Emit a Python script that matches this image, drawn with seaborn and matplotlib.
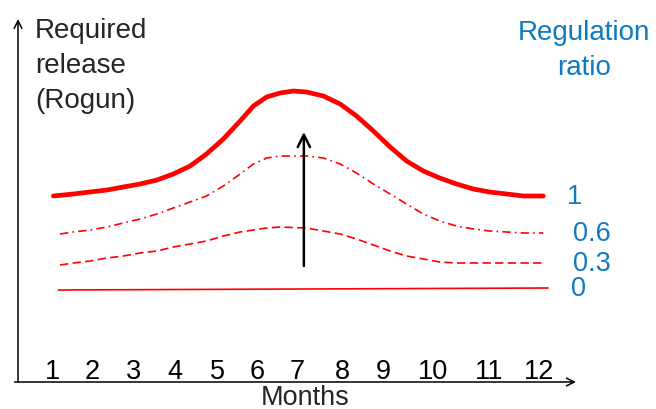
#required release sketch for rogun, one curve per regulation ratio
import numpy as np
import pandas as pd
import matplotlib
matplotlib.use('Agg')
import matplotlib.pyplot as plt
import seaborn as sns

#data, x in months, y in release units
t_main = [1.03, 1.48, 1.86, 2.24, 2.61, 2.99, 3.37, 3.74, 4.12, 4.49, 4.87, 5.25, 5.55, 5.85, 6.15, 6.45,
          6.75, 7.13, 7.51, 7.88, 8.26, 8.64, 9.01, 9.39, 9.76, 10.14, 10.52, 10.89, 11.27, 11.65, 12.10]
ratio_1 = [18.6, 18.8, 19.0, 19.2, 19.5, 19.8, 20.2, 20.8, 21.6, 22.8, 24.3, 26.1, 27.6, 28.5, 28.9, 29.1,
           29.0, 28.6, 27.8, 26.6, 25.1, 23.5, 22.1, 21.1, 20.4, 19.8, 19.3, 19.0, 18.8, 18.6, 18.6]

t_reg = [1.18, 1.48, 1.86, 2.24, 2.61, 2.99, 3.37, 3.74, 4.12, 4.49, 4.87, 5.25, 5.55, 5.85, 6.15, 6.45,
         6.75, 7.13, 7.51, 7.88, 8.26, 8.64, 9.01, 9.39, 9.76, 10.14, 10.52, 10.89, 11.27, 11.65, 12.10]
ratio_06 = [14.8, 15.0, 15.2, 15.5, 15.9, 16.3, 16.8, 17.4, 18.0, 18.6, 19.6, 20.8, 21.8, 22.4, 22.6, 22.6,
            22.6, 22.4, 21.8, 20.9, 19.8, 18.8, 17.8, 16.8, 16.1, 15.6, 15.3, 15.1, 15.0, 14.9, 14.9]
ratio_03 = [11.7, 11.9, 12.1, 12.4, 12.6, 12.9, 13.1, 13.5, 13.8, 14.1, 14.6, 15.0, 15.2, 15.4, 15.5, 15.45,
            15.4, 15.1, 14.8, 14.3, 13.7, 13.1, 12.6, 12.3, 12.0, 11.9, 11.9, 11.9, 11.9, 11.9, 11.9]
t_flat = [1.14, 12.21]
ratio_0 = [9.2, 9.4]

ratio_labels = ['1', '0.6', '0.3', '0']

#month tick labels, placed where the picture has them
months = ['1', '2', '3', '4', '5', '6', '7', '8', '9', '10', '11', '12']
month_pos = [1.0, 1.90, 2.83, 3.78, 4.73, 5.63, 6.53, 7.57, 8.48, 9.61, 10.87, 12.0]

sns.set_style('white')
plt.rcParams['font.family'] = ['Liberation Sans', 'DejaVu Sans']

red = '#ff0000'
blue = '#0f7ac0'

fig = plt.figure(figsize=(6.56, 4.10), dpi=100)
ax = fig.add_axes([18/656, 27/410, 558/656, 363/410])

sns.lineplot(x=t_main, y=ratio_1, ax=ax, color=red, lw=3.4, sort=False, solid_joinstyle='round')
sns.lineplot(x=t_reg, y=ratio_06, ax=ax, color=red, lw=1.2, sort=False, linestyle=(0, (5, 2.5, 1, 2.5)))
sns.lineplot(x=t_reg, y=ratio_03, ax=ax, color=red, lw=1.2, sort=False, linestyle=(0, (5, 2.6)))
sns.lineplot(x=t_flat, y=ratio_0, ax=ax, color=red, lw=1.2, sort=False)

ax.set_xlim(0.23, 12.84)
ax.set_ylim(0, 36.3)
ax.set_xticks([])
ax.set_yticks([])
for s in ax.spines.values():
    s.set_visible(False)

#axis arrows
ax.annotate('', xy=(0, 1), xytext=(0, 0), xycoords='axes fraction',
            arrowprops=dict(arrowstyle='->', lw=1.1, color='black', mutation_scale=14, shrinkA=0, shrinkB=0))
ax.annotate('', xy=(1, 0), xytext=(-0.006, 0), xycoords='axes fraction',
            arrowprops=dict(arrowstyle='->', lw=1.1, color='black', mutation_scale=14, shrinkA=0, shrinkB=0))

#the black arrow in july
ax.annotate('', xy=(6.69, 25.0), xytext=(6.69, 11.6),
            arrowprops=dict(arrowstyle='->', lw=1.8, color='black', mutation_scale=22, shrinkA=0, shrinkB=0))

for m, p in zip(months, month_pos):
    ax.text(p, 0.4, m, ha='center', va='baseline', fontsize=19.5, color='black')

#labels at the end of every curve
ends = [ratio_1[-1], ratio_06[-1], ratio_03[-1], ratio_0[-1]]
label_x = [12.8, 13.2, 13.2, 12.89]
for lab, lx, ly in zip(ratio_labels, label_x, ends):
    ax.text(lx, ly, lab, ha='center', va='center', fontsize=19.5, color=blue, clip_on=False)

fig.text(35/656, 1 - 18/410, 'Required\nrelease\n(Rogun)', ha='left', va='top', fontsize=20, linespacing=1.45)
fig.text(584/656, 1 - 20/410, 'Regulation\nratio', ha='center', va='top', fontsize=20,
         color=blue, linespacing=1.45, multialignment='center')
fig.text(305/656, 0.012, 'Months', ha='center', va='baseline', fontsize=19.5)

fig.savefig('out.png', dpi=100)
